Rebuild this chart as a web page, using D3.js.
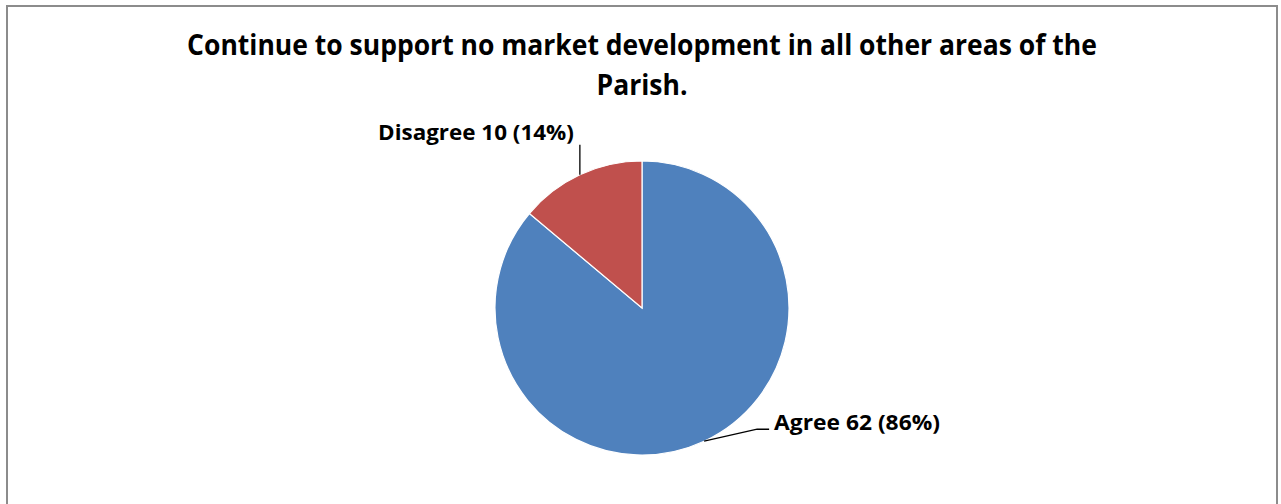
<!DOCTYPE html>
<html>
<head>
<meta charset="utf-8">
<script src="https://cdn.jsdelivr.net/npm/d3@7/dist/d3.min.js"></script>
<style>
  html, body { margin: 0; padding: 0; background: #fff; }
  svg { display: block; }
  text { font-family: "Open Sans", Lato, sans-serif; font-weight: bold; fill: #000; }
</style>
</head>
<body>
<svg id="chart" width="1281" height="504"></svg>
<script>
const categories = ["Agree", "Disagree"];
const values = [62, 10];
const percents = ["86%", "14%"];
const colors = ["#4F81BD", "#C0504D"];
const titleLines = ["Continue to support no market development in all other areas of the", "Parish."];

const svg = d3.select("#chart");

// place text at (x,y) with font size fitted to target width and cap height
function fittedText(parent, str, x, y, anchor, targetW, capH) {
  const grp = parent.append("g");
  const t = grp.append("text").attr("text-anchor", anchor).text(str).style("font-size", "20px");
  const w = t.node().getComputedTextLength();
  const fs = 20 * targetW / w;
  t.style("font-size", fs.toFixed(2) + "px");
  const k = capH / (fs * 0.714);
  grp.attr("transform", `translate(${x},${y}) scale(1,${k.toFixed(3)})`);
  return fs;
}

// chart border
svg.append("rect")
  .attr("x", 7).attr("y", 6)
  .attr("width", 1270).attr("height", 520)
  .attr("fill", "#fff")
  .attr("stroke", "#8c8c8c").attr("stroke-width", 2);

// title: line 1 fitted to width, line 2 uses same size
{
  const fs = fittedText(svg, titleLines[0], 642, 55, "middle", 910, 20);
  const grp = svg.append("g");
  grp.append("text").attr("text-anchor", "middle").style("font-size", fs.toFixed(2) + "px").text(titleLines[1]);
  grp.attr("transform", `translate(642,95) scale(1,${(20 / (fs * 0.714)).toFixed(3)})`);
}

const cx = 642, cy = 308, r = 147;
const g = svg.append("g").attr("transform", `translate(${cx},${cy})`);

const pie = d3.pie().sort(null).value(d => d.value);
const data = categories.map((c, i) => ({ name: c, value: values[i], pct: percents[i], color: colors[i] }));
const arcs = pie(data);
const arc = d3.arc().innerRadius(0).outerRadius(r);

g.selectAll("path.slice").data(arcs).join("path")
  .attr("class", "slice")
  .attr("d", arc)
  .attr("fill", d => d.data.color)
  .attr("stroke", "#fff")
  .attr("stroke-width", 1.2);

function edgePoint(d) {
  const a = (d.startAngle + d.endAngle) / 2;
  return [r * Math.sin(a), -r * Math.cos(a)];
}
const leaders = [
  { pts: [[0, 0], [53, -12], [65, -12]], label: [70, -11], anchor: "start", width: 166 },
  { pts: [[0, 0], [0, -30]], label: [-6, -35], anchor: "end", width: 196 }
];

arcs.forEach((d, i) => {
  const [ex, ey] = edgePoint(d);
  const L = leaders[i];
  g.append("path")
    .attr("d", d3.line()(L.pts.map(p => [ex + p[0], ey + p[1]])))
    .attr("fill", "none")
    .attr("stroke", "#000")
    .attr("stroke-width", 1.3);
  fittedText(g, `${d.data.name} ${d.data.value} (${d.data.pct})`, ex + L.label[0], ey + L.label[1], L.anchor, L.width, 15);
});
</script>
</body>
</html>
